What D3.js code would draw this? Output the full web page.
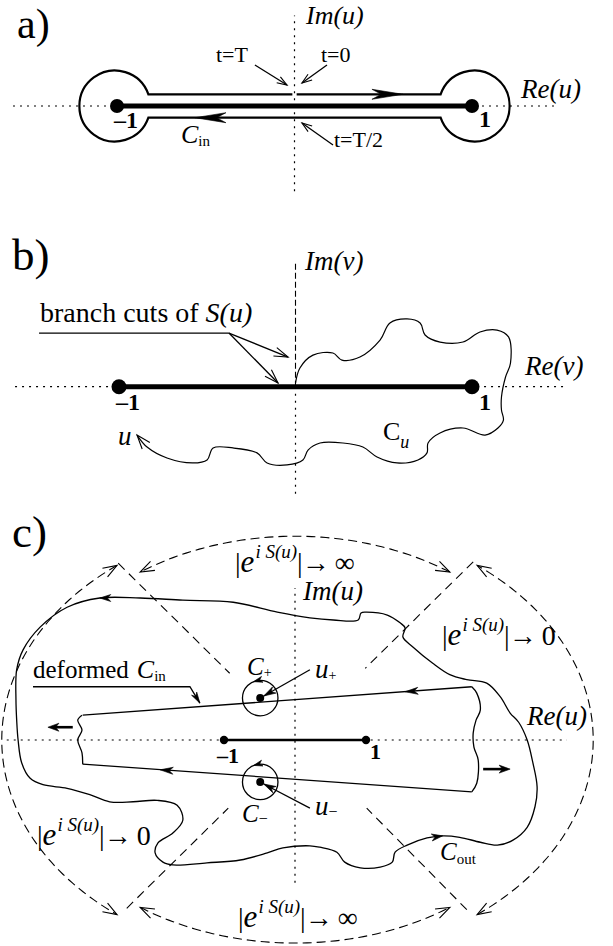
<!DOCTYPE html>
<html>
<head>
<meta charset="utf-8">
<title>contours in the complex u plane</title>
<script src="https://cdn.jsdelivr.net/npm/d3@7"></script>
<style>
body { margin: 0; background: #fff; }
svg text { font-family: "Liberation Serif", "Times New Roman", Times, serif; fill: #000; }
.ax { stroke: #000; stroke-width: 1.2; stroke-dasharray: 2,5; fill: none; }
.thin { stroke: #000; stroke-width: 1.3; fill: none; }
</style>
</head>
<body>
<svg width="613" height="946"></svg>
<script>
// ---- data, in units of the complex plane (re, im) ----
var branchPts = [-1, 1];

// a) C_in hugging the cut
var aHalfGap = 0.066, aLoopR = 0.2, aLoopShift = 0.012;
var aArrows = [[0.45, 0.066, 0.611, 0.066], [-0.40, -0.066, -0.561, -0.066]];
var aPointers = [[-0.223, 0.231, -0.042, 0.118], [0.183, 0.231, 0.042, 0.130], [0.217, -0.220, 0.042, -0.096]];

// b) C_u, from the branch point out to u
var cuPath = [[0.0,0.02],[0.025,0.106],[0.099,0.179],[0.212,0.191],[0.263,0.151],[0.365,0.168],[0.479,0.264],
  [0.535,0.361],[0.632,0.384],[0.706,0.361],[0.734,0.293],[0.819,0.253],[0.949,0.253],[1.045,0.310],[1.142,0.321],
  [1.207,0.282],[1.218,0.134],[1.190,0.055],[1.167,-0.058],[1.167,-0.132],[1.178,-0.189],[1.147,-0.234],[1.074,-0.274],
  [0.949,-0.234],[0.819,-0.262],[0.751,-0.319],[0.745,-0.375],[0.694,-0.415],[0.575,-0.432],[0.462,-0.398],[0.382,-0.342],
  [0.269,-0.319],[0.139,-0.319],[0.071,-0.359],[0.042,-0.415],[-0.048,-0.443],[-0.161,-0.432],[-0.218,-0.375],
  [-0.354,-0.347],[-0.467,-0.347],[-0.501,-0.415],[-0.581,-0.432],[-0.728,-0.404],[-0.841,-0.342],[-0.898,-0.274]];
var bLeader = [[-1.453, 0.304], [-0.377, 0.304]];
var bPointers = [[-0.042, 0.168], [-0.099, 0.021]];

// c) deformed C_in, C_out, saddle points
var cinTop = [[-2.99, 0.35], [2.49, 0.75]];
var cinBottom = [[2.49, -0.73], [-2.99, -0.34]];
var cinLeftEnd = [[-2.99,-0.34],[-3.0,-0.18],[-3.06,0],[-3.0,0.14],[-3.06,0.28],[-3.0,0.35]];
var cinRightEnd = [[2.49,0.75],[2.56,0.66],[2.61,0.42],[2.55,0.28],[2.51,0.10],[2.52,-0.10],[2.58,-0.28],[2.56,-0.61],[2.49,-0.73]];
var cinArrows = [[2.2, 0.725, 1.55, 0.68], [-1.2, -0.47, -1.9, -0.42]];
var pushArrows = [[-3.13, 0.18, -3.48, 0.18], [2.65, -0.41, 3.03, -0.41]];
var coutPath = [[0.21,1.72],[-0.25,1.80],[-0.87,1.94],[-1.58,1.97],[-2.18,2.00],[-2.75,2.00],[-3.21,1.87],[-3.59,1.59],
  [-3.83,1.27],[-3.92,0.99],[-3.93,0.56],[-3.92,0.28],[-3.90,0.0],[-3.85,-0.32],[-3.73,-0.54],[-3.55,-0.63],[-3.21,-0.68],
  [-2.89,-0.77],[-2.61,-0.87],[-2.28,-0.87],[-1.94,-0.85],[-1.66,-0.92],[-1.58,-1.13],[-1.72,-1.31],[-1.93,-1.45],
  [-1.97,-1.59],[-1.86,-1.72],[-1.72,-1.76],[-1.24,-1.73],[-0.77,-1.69],[-0.39,-1.59],[-0.17,-1.52],[0.21,-1.49],
  [0.35,-1.51],[0.59,-1.58],[0.70,-1.72],[0.92,-1.80],[1.20,-1.79],[1.37,-1.72],[1.41,-1.58],[1.58,-1.48],[1.86,-1.38],
  [2.08,-1.35],[2.32,-1.37],[2.61,-1.44],[2.85,-1.48],[3.07,-1.41],[3.27,-1.23],[3.38,-0.94],[3.41,-0.66],[3.35,-0.32],
  [3.27,0.0],[3.15,0.25],[3.03,0.38],[2.89,0.61],[2.70,0.80],[2.42,0.85],[2.18,0.92],[1.94,1.08],[1.66,1.31],[1.52,1.45],
  [1.55,1.58],[1.48,1.65],[1.30,1.76],[1.01,1.80],[0.93,1.79],[0.89,1.69],[0.54,1.69]];
var coutArrows = [[-2.55, 2.0, -2.75, 2.0], [1.88, -1.38, 2.08, -1.35]];
var saddles = [[-0.49, 0.59], [-0.49, -0.59]];
var saddleR = 0.25;
var saddlePointers = [[0.21, 0.99, -0.44, 0.62], [0.21, -0.96, -0.44, -0.62]];
var cLeader = [[-3.69, 0.75], [-1.48, 0.75], [-1.34, 0.52]];
var antiStokes = [[-2.49,2.49,-0.92,0.94],[2.51,2.51,0.99,1.01],[-2.37,-2.37,-0.94,-0.96],[2.42,-2.39,1.01,-0.96]];
// arcs of the big ellipse: [cx, rx, ry, from deg, to deg]
var stokesArcs = [[0.0, 3.85, 2.87, 55.5, 124.5], [0.02, 4.15, 3.1, 127.5, 232.5],
                  [0.0, 3.85, 2.86, 235.5, 304.5], [0.02, 4.18, 3.1, -52.5, 52.5]];

// ---- helpers ----
var svg = d3.select("svg");

function panel(xm1, xp1, y0) {
  var k = (xp1 - xm1) / 2, cx = (xm1 + xp1) / 2;
  return {
    k: k,
    x: d3.scaleLinear().domain([-1, 1]).range([cx - k, cx + k]),
    y: d3.scaleLinear().domain([-1, 1]).range([y0 + k, y0 - k])
  };
}

function head(g, x1, y1, x2, y2, len, half, kind) {
  var a = Math.atan2(y2 - y1, x2 - x1) * 180 / Math.PI;
  var d = kind === "open"
    ? "M" + (-len) + "," + (-half) + "L0,0L" + (-len) + "," + half
    : "M0,0L" + (-len) + "," + (-half) + "L" + (-len * 0.7) + ",0L" + (-len) + "," + half + "Z";
  g.append("path").attr("d", d)
    .attr("transform", "translate(" + x2 + "," + y2 + ") rotate(" + a + ")")
    .attr("fill", kind === "open" ? "none" : "#000")
    .attr("stroke", "#000")
    .attr("stroke-width", kind === "open" ? 1.1 : 0.6);
}

function mathText(g, x, y, parts) {
  var t = g.append("text").attr("x", x).attr("y", y);
  var cur = 0;
  parts.forEach(function(p) {
    var s = t.append("tspan").text(p.t)
      .attr("font-size", p.s)
      .attr("dy", (p.dy || 0) - cur);
    cur = p.dy || 0;
    if (p.i) s.attr("font-style", "italic");
    if (p.b) s.attr("font-weight", "bold");
    if (p.dx) s.attr("dx", p.dx);
  });
  return t;
}

function axes(g, P, x0, x1, y0, y1) {
  g.append("line").attr("class", "ax")
    .attr("x1", P.x(x0)).attr("x2", P.x(x1)).attr("y1", P.y(0)).attr("y2", P.y(0));
  g.append("line").attr("class", "ax")
    .attr("x1", P.x(0)).attr("x2", P.x(0)).attr("y1", P.y(y0)).attr("y2", P.y(y1));
}

function cut(g, P, w, r) {
  g.append("line").attr("stroke", "#000").attr("stroke-width", w)
    .attr("x1", P.x(branchPts[0])).attr("x2", P.x(branchPts[1]))
    .attr("y1", P.y(0)).attr("y2", P.y(0));
  g.selectAll(".bp").data(branchPts).enter().append("circle")
    .attr("cx", function(d) { return P.x(d); }).attr("cy", P.y(0)).attr("r", r);
}

function eLabel(g, x, y, tail) {
  mathText(g, x, y, [
    {t: "|", s: 28}, {t: "e", s: 31, i: 1}, {t: "i S(u)", s: 19, i: 1, dy: -14, dx: 1},
    {t: "|", s: 28, dy: 0}, {t: "\u2192", s: 28, dx: -1}, {t: "\u221e" === tail ? "\u221e" : "0", s: 28, dx: 5}
  ]);
}

// ================= a) =================
var A = panel(117, 472, 106);
var ga = svg.append("g");
axes(ga, A, -1.586, 1.468, -0.48, 0.51);
cut(ga, A, 5, 7);

(function() {
  var h = aHalfGap, r = aLoopR, c = 1 + aLoopShift, j = Math.sqrt(r * r - h * h), rp = r * A.k;
  var d = "M" + A.x(0.012) + "," + A.y(h) + "L" + A.x(c - j) + "," + A.y(h)
    + "A" + rp + "," + rp + " 0 1 1 " + A.x(c - j) + "," + A.y(-h)
    + "L" + A.x(-c + j) + "," + A.y(-h)
    + "A" + rp + "," + rp + " 0 1 1 " + A.x(-c + j) + "," + A.y(h)
    + "L" + A.x(-0.012) + "," + A.y(h);
  ga.append("path").attr("d", d).attr("fill", "none").attr("stroke", "#000").attr("stroke-width", 2.2);
})();
aArrows.forEach(function(a) {
  head(ga, A.x(a[0]), A.y(a[1]), A.x(a[2]), A.y(a[3]), 31, 5, "fill");
});
aPointers.forEach(function(a) {
  ga.append("line").attr("class", "thin").attr("stroke-width", 1)
    .attr("x1", A.x(a[0])).attr("y1", A.y(a[1])).attr("x2", A.x(a[2])).attr("y2", A.y(a[3]));
  head(ga, A.x(a[0]), A.y(a[1]), A.x(a[2]), A.y(a[3]), 10, 3.5, "open");
});

mathText(ga, 17, 38, [{t: "a)", s: 42}]);
mathText(ga, 306, 24, [{t: "Im(u)", s: 26, i: 1}]);
mathText(ga, 521, 98, [{t: "Re(u)", s: 27, i: 1}]);
mathText(ga, 216, 62, [{t: "t=T", s: 22}]);
mathText(ga, 321, 62, [{t: "t=0", s: 22}]);
mathText(ga, 334, 147, [{t: "t=T/2", s: 22}]);
mathText(ga, 181, 143, [{t: "C", s: 26, i: 1}, {t: "in", s: 15, dy: 3}]);
mathText(ga, 114, 128, [{t: "\u20131", s: 24, b: 1}]);
mathText(ga, 479, 127, [{t: "1", s: 24, b: 1}]);

// ================= b) =================
var B = panel(119, 472, 386.7);
var gb = svg.append("g");
gb.append("line").attr("class", "ax")
  .attr("x1", B.x(-1.589)).attr("x2", B.x(1.516)).attr("y1", B.y(0)).attr("y2", B.y(0));
gb.append("line").attr("class", "ax")
  .attr("x1", B.x(0)).attr("x2", B.x(0)).attr("y1", B.y(0)).attr("y2", B.y(-0.631));
gb.append("line").attr("stroke", "#000").attr("stroke-width", 1.1).attr("stroke-dasharray", "6,3")
  .attr("x1", B.x(0)).attr("x2", B.x(0)).attr("y1", B.y(0)).attr("y2", B.y(0.707));
cut(gb, B, 5, 7.5);

var lineB = d3.line().x(function(d) { return B.x(d[0]); }).y(function(d) { return B.y(d[1]); });
gb.append("path").attr("d", lineB.curve(d3.curveCatmullRom)(cuPath))
  .attr("fill", "none").attr("stroke", "#000").attr("stroke-width", 1.2);
(function() {
  var n = cuPath.length, p = cuPath[n - 2], q = cuPath[n - 1];
  head(gb, B.x(p[0]), B.y(p[1]), B.x(q[0]), B.y(q[1]), 14, 5, "open");
})();
gb.append("path").attr("d", d3.line().x(function(d) { return B.x(d[0]); }).y(function(d) { return B.y(d[1]); })(bLeader))
  .attr("class", "thin").attr("stroke-width", 1.1);
bPointers.forEach(function(p) {
  var s = bLeader[1];
  gb.append("line").attr("class", "thin").attr("stroke-width", 1.1)
    .attr("x1", B.x(s[0])).attr("y1", B.y(s[1])).attr("x2", B.x(p[0])).attr("y2", B.y(p[1]));
  head(gb, B.x(s[0]), B.y(s[1]), B.x(p[0]), B.y(p[1]), 14, 4.5, "open");
});

mathText(gb, 12, 270, [{t: "b)", s: 45}]);
mathText(gb, 305, 270, [{t: "Im(v)", s: 27, i: 1}]);
mathText(gb, 525, 375, [{t: "Re(v)", s: 27, i: 1}]);
mathText(gb, 40, 322, [{t: "branch cuts of ", s: 28}, {t: "S(u)", s: 28, i: 1}]);
mathText(gb, 116, 410, [{t: "\u20131", s: 24, b: 1}]);
mathText(gb, 479, 410, [{t: "1", s: 24, b: 1}]);
mathText(gb, 118, 445, [{t: "u", s: 27, i: 1}]);
mathText(gb, 383, 440, [{t: "C", s: 26}, {t: "u", s: 18, i: 1, dy: 8}]);

// ================= c) =================
var C = panel(224, 366, 740);
var gc = svg.append("g");
var lineC = d3.line().x(function(d) { return C.x(d[0]); }).y(function(d) { return C.y(d[1]); });
axes(gc, C, -4.06, 3.83, -2.01, 2.14);

// Stokes ellipse arcs with arrowheads at both ends
stokesArcs.forEach(function(a) {
  var pts = d3.range(a[3], a[4] + 0.01, 1).map(function(t) {
    var r = t * Math.PI / 180;
    return [a[0] + a[1] * Math.cos(r), a[2] * Math.sin(r)];
  });
  gc.append("path").attr("d", lineC.curve(d3.curveLinear)(pts))
    .attr("fill", "none").attr("stroke", "#000").attr("stroke-width", 1.1).attr("stroke-dasharray", "9,5");
  var n = pts.length;
  head(gc, C.x(pts[n - 3][0]), C.y(pts[n - 3][1]), C.x(pts[n - 1][0]), C.y(pts[n - 1][1]), 14, 5, "open");
  head(gc, C.x(pts[2][0]), C.y(pts[2][1]), C.x(pts[0][0]), C.y(pts[0][1]), 14, 5, "open");
});
antiStokes.forEach(function(a) {
  gc.append("line").attr("stroke", "#000").attr("stroke-width", 1.1).attr("stroke-dasharray", "9,6")
    .attr("x1", C.x(a[0])).attr("y1", C.y(a[1])).attr("x2", C.x(a[2])).attr("y2", C.y(a[3]));
});

cut(gc, C, 2.6, 4.2);

// C_out
gc.append("path").attr("d", lineC.curve(d3.curveCatmullRomClosed)(coutPath))
  .attr("fill", "none").attr("stroke", "#000").attr("stroke-width", 1.3);
coutArrows.forEach(function(a) {
  head(gc, C.x(a[0]), C.y(a[1]), C.x(a[2]), C.y(a[3]), 11, 3.5, "fill");
});

// deformed C_in
[cinTop, cinBottom].forEach(function(s) {
  gc.append("path").attr("d", lineC.curve(d3.curveLinear)(s)).attr("class", "thin");
});
[cinLeftEnd, cinRightEnd].forEach(function(s) {
  gc.append("path").attr("d", lineC.curve(d3.curveCatmullRom)(s)).attr("class", "thin");
});
cinArrows.forEach(function(a) {
  head(gc, C.x(a[0]), C.y(a[1]), C.x(a[2]), C.y(a[3]), 13, 3.5, "fill");
});
pushArrows.forEach(function(a) {
  gc.append("line").attr("stroke", "#000").attr("stroke-width", 2.6)
    .attr("x1", C.x(a[0])).attr("y1", C.y(a[1])).attr("x2", C.x(a[2]) + (a[2] > a[0] ? -6 : 6)).attr("y2", C.y(a[3]));
  head(gc, C.x(a[0]), C.y(a[1]), C.x(a[2]), C.y(a[3]), 11, 4, "fill");
});

// saddle points with small loops
saddles.forEach(function(s) {
  gc.append("circle").attr("class", "thin").attr("cx", C.x(s[0])).attr("cy", C.y(s[1])).attr("r", saddleR * C.k);
  gc.append("circle").attr("cx", C.x(s[0])).attr("cy", C.y(s[1])).attr("r", 4);
  var t1 = 112 * Math.PI / 180, t0 = 98 * Math.PI / 180;
  head(gc, C.x(s[0] + saddleR * Math.cos(t0)), C.y(s[1] + saddleR * Math.sin(t0)),
       C.x(s[0] + saddleR * Math.cos(t1)), C.y(s[1] + saddleR * Math.sin(t1)), 9, 3, "fill");
});
saddlePointers.forEach(function(a) {
  gc.append("line").attr("class", "thin").attr("stroke-width", 1.1)
    .attr("x1", C.x(a[0])).attr("y1", C.y(a[1])).attr("x2", C.x(a[2])).attr("y2", C.y(a[3]));
  head(gc, C.x(a[0]), C.y(a[1]), C.x(a[2]), C.y(a[3]), 12, 3.5, "fill");
});
gc.append("path").attr("d", lineC.curve(d3.curveLinear)(cLeader)).attr("class", "thin").attr("stroke-width", 1.1);
head(gc, C.x(cLeader[1][0]), C.y(cLeader[1][1]), C.x(cLeader[2][0]), C.y(cLeader[2][1]), 11, 3, "fill");

mathText(gc, 12, 547, [{t: "c)", s: 45}]);
mathText(gc, 303, 600, [{t: "Im(u)", s: 27, i: 1}]);
mathText(gc, 527, 725, [{t: "Re(u)", s: 27, i: 1}]);
eLabel(gc, 235, 572, "\u221e");
eLabel(gc, 442, 645, "0");
eLabel(gc, 37, 845, "0");
eLabel(gc, 238, 927, "\u221e");
mathText(gc, 33, 678, [{t: "deformed", s: 25}, {t: "C", s: 26, i: 1, dx: 8}, {t: "in", s: 15, dy: 3}]);
mathText(gc, 247, 675, [{t: "C", s: 25, i: 1}, {t: "+", s: 14, dy: 2}]);
mathText(gc, 315, 678, [{t: "u", s: 27, i: 1}, {t: "+", s: 14, dy: 2}]);
mathText(gc, 242, 822, [{t: "C", s: 25, i: 1}, {t: "\u2212", s: 16, dy: 2}]);
mathText(gc, 315, 815, [{t: "u", s: 27, i: 1}, {t: "\u2212", s: 16, dy: 2}]);
mathText(gc, 217, 763, [{t: "\u20131", s: 22, b: 1}]);
mathText(gc, 370, 759, [{t: "1", s: 22, b: 1}]);
mathText(gc, 440, 860, [{t: "C", s: 25, i: 1}, {t: "out", s: 15, dy: 4}]);
</script>
</body>
</html>
